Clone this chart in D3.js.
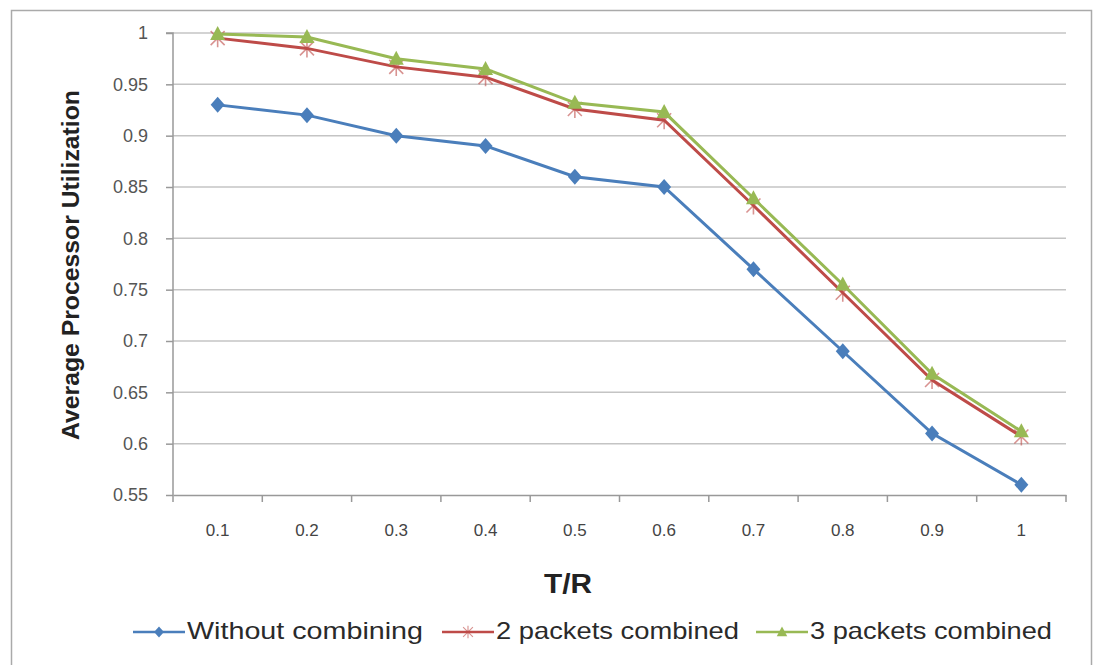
<!DOCTYPE html>
<html><head><meta charset="utf-8">
<script src="https://cdn.jsdelivr.net/npm/d3@7"></script>
<style>body{margin:0;background:#fff;}svg{display:block;}</style>
</head><body>
<svg id="c" width="1093" height="665"></svg>
<script>
const categories = ["0.1","0.2","0.3","0.4","0.5","0.6","0.7","0.8","0.9","1"];
const withoutCombining = [0.93,0.92,0.90,0.89,0.86,0.85,0.77,0.69,0.61,0.56];
const twoPackets = [0.995,0.985,0.967,0.957,0.926,0.915,0.832,0.747,0.662,0.607];
const threePackets = [0.999,0.996,0.975,0.965,0.932,0.923,0.839,0.755,0.668,0.612];
const yTicks = [0.55,0.6,0.65,0.7,0.75,0.8,0.85,0.9,0.95,1];
const seriesNames = ["Without combining","2 packets combined","3 packets combined"];
const colors = ["#4A7EBB","#BE4B48","#98B954"];

const svg = d3.select("#c");
const font = "'Liberation Sans', Arial, sans-serif";

// outer frame
svg.append("rect").attr("x",11.5).attr("y",10.5).attr("width",1080).attr("height",670)
  .attr("fill","#fff").attr("stroke","#aaa").attr("stroke-width",1.5);

const L=173, R=1066, T=33, B=495;
const x = d3.scaleBand().domain(categories).range([L,R]);
const y = d3.scaleLinear().domain([0.55,1]).range([B,T]);

// gridlines
svg.append("g").selectAll("line").data(yTicks.slice(1)).join("line")
  .attr("x1",L).attr("x2",R).attr("y1",d=>y(d)).attr("y2",d=>y(d))
  .attr("stroke","#c4c4c4").attr("stroke-width",1.5);

// y axis
const yAxis = svg.append("g").attr("transform",`translate(${L},0)`)
  .call(d3.axisLeft(y).tickValues(yTicks).tickSize(7).tickPadding(18).tickFormat(d=>String(+d.toFixed(2))));
yAxis.select(".domain").attr("stroke","#999").attr("stroke-width",1.5).attr("d",`M-7,${T}H0V${B}`);
yAxis.selectAll(".tick line").attr("stroke","#999").attr("stroke-width",1.5);
yAxis.selectAll(".tick text").attr("font-family",font).attr("font-size",18).attr("fill","#555");

// x axis
const xAxis = svg.append("g").attr("transform",`translate(0,${B})`)
  .call(d3.axisBottom(x).tickSize(0).tickPadding(29));
xAxis.select(".domain").attr("stroke","#999").attr("stroke-width",1.5);
xAxis.selectAll(".tick text").attr("font-family",font).attr("font-size",17).attr("fill","#444");
svg.append("g").selectAll("line").data(categories.concat(["end"])).join("line")
  .attr("x1",(d,i)=>L+i*x.step()).attr("x2",(d,i)=>L+i*x.step())
  .attr("y1",B).attr("y2",B+7).attr("stroke","#999").attr("stroke-width",1.5);

// titles
svg.append("text").attr("transform","translate(79,265) rotate(-90)").attr("text-anchor","middle")
  .attr("font-family",font).attr("font-weight","bold").attr("font-size",24).attr("fill","#222")
  .attr("textLength",350).attr("lengthAdjust","spacingAndGlyphs")
  .text("Average Processor Utilization");
svg.append("text").attr("x",568).attr("y",593).attr("text-anchor","middle")
  .attr("font-family",font).attr("font-weight","bold").attr("font-size",27).attr("fill","#222")
  .attr("textLength",48).attr("lengthAdjust","spacingAndGlyphs").text("T/R");

const allSeries = [withoutCombining, twoPackets, threePackets];
const line = d3.line().x((d,i)=>x(categories[i])+x.bandwidth()/2).y(d=>y(d));

function marker(g, k, cx, cy, s){
  if(k===0){
    g.append("path").attr("d","M0,-8L7,0L0,8L-7,0Z")
      .attr("transform",`translate(${cx},${cy}) scale(${s})`).attr("fill",colors[0]);
  } else if(k===1){
    g.append("path").attr("d","M-7,-7L7,7M-7,7L7,-7M0,-9V9")
      .attr("transform",`translate(${cx},${cy}) scale(${s})`).attr("stroke",colors[1]).attr("stroke-width",1.6).attr("fill","none").attr("opacity",0.6);
  } else {
    g.append("path").attr("d","M0,-8L7.5,6L-7.5,6Z")
      .attr("transform",`translate(${cx},${cy}) scale(${s})`).attr("fill",colors[2]);
  }
}

allSeries.forEach((s,k)=>{
  svg.append("path").datum(s).attr("d",line).attr("fill","none")
    .attr("stroke",colors[k]).attr("stroke-width",3);
  const g = svg.append("g");
  s.forEach((v,i)=>marker(g,k,x(categories[i])+x.bandwidth()/2,y(v),1));
});

// legend
const legendX = [133, 442, 756];
const legendW = [236, 243, 242];
seriesNames.forEach((n,k)=>{
  const g = svg.append("g");
  g.append("line").attr("x1",legendX[k]).attr("x2",legendX[k]+52).attr("y1",632).attr("y2",632)
    .attr("stroke",colors[k]).attr("stroke-width",2.5);
  marker(g,k,legendX[k]+26,632,0.7);
  g.append("text").attr("x",legendX[k]+54).attr("y",639).attr("font-family",font)
    .attr("font-size",24).attr("fill","#2a2a2a")
    .attr("textLength",legendW[k]).attr("lengthAdjust","spacingAndGlyphs").text(n);
});
</script>
</body></html>
